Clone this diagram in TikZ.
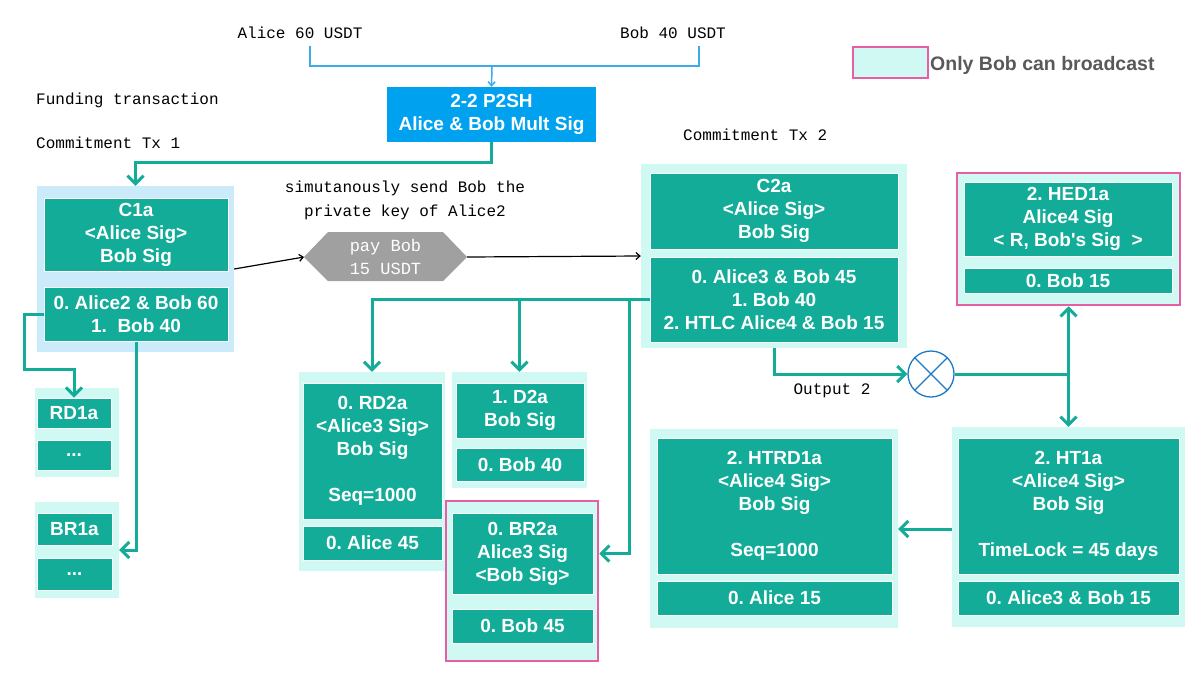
\documentclass[tikz,border=0pt]{standalone}
\usepackage{fontspec}
\setmainfont{Liberation Sans}
\newfontfamily\monof{Liberation Mono}
\usetikzlibrary{arrows.meta}
\frenchspacing
\definecolor{tealA}{RGB}{19,172,152}
\definecolor{lcyan}{RGB}{208,249,244}
\definecolor{lblue}{RGB}{204,235,250}
\definecolor{pinkb}{RGB}{232,94,164}
\definecolor{ptwoblue}{RGB}{0,162,240}
\definecolor{lineblue}{RGB}{60,170,235}
\definecolor{hexgray}{RGB}{160,160,160}
\definecolor{circblue}{RGB}{30,120,200}
\definecolor{leggray}{RGB}{89,89,89}
\tikzset{
  sz/.style 2 args={minimum width=#1pt, minimum height=#2pt},
  inbox/.style={fill=tealA, draw=white, line width=1pt, text=white, inner sep=0pt,
    font=\fontsize{19}{23}\selectfont\bfseries\frenchspacing, align=center},
  outbox/.style={fill=lcyan, inner sep=0pt},
  pinkbox/.style={fill=lcyan, draw=pinkb, line width=2.5pt, inner sep=0pt},
  mono/.style={font=\monof\fontsize{16}{24}\selectfont, inner sep=1pt},
  tarrow/.style={draw=tealA, line width=3pt, -{Straight Barb[length=8pt,width=16pt]}},
  tline/.style={draw=tealA, line width=3pt},
  karrow/.style={draw=black, line width=1.2pt, -{Straight Barb[length=4pt,width=7pt]}},
  bline/.style={draw=lineblue, line width=1.5pt},
}
\begin{document}
\begin{tikzpicture}[x=1pt,y=-1pt]
\useasboundingbox (0,0) rectangle (1201,683);

% top texts
\node[mono] (alice) at (300,33) {Alice 60 USDT};
\node[mono] (bob) at (673,33) {Bob 40 USDT};
\node[mono, anchor=west] (fund) at (35,100) {Funding transaction};
\node[mono, anchor=west] (ctxone) at (35,143) {Commitment Tx 1};
\node[mono, anchor=west] (ctxtwo) at (682,135) {Commitment Tx 2};
\node[mono, align=center] (sim) at (405,200) {simutanously send Bob the\\private key of Alice2};
\node[mono] (outtwo) at (832,391) {Output 2};

% legend
\node[pinkbox, sz={75}{31}] (leg) at (890.5,62.5) {};
\node[anchor=west, inner sep=1pt, text=leggray, font=\fontsize{19.5}{22}\selectfont\bfseries] (legt) at (929,65) {Only Bob can broadcast};

% P2SH
\node[fill=ptwoblue, text=white, inner sep=0pt, sz={209}{55}, align=center,
  font=\fontsize{19}{23}\selectfont\bfseries] (ptwo) at (491.5,114.5) {2-2 P2SH\\Alice \& Bob Mult Sig};

% C1a
\node[fill=lblue, inner sep=0pt, sz={197}{166}] (coneo) at (135.5,269) {};
\node[inbox, sz={184}{73}] (conet) at (136,234.5) {C1a\\<Alice Sig>\\Bob Sig};
\node[inbox, sz={184}{54}] (coneb) at (136,314) {0. Alice2 \& Bob 60\\1.\ \ Bob 40};

% RD1a / BR1a
\node[outbox, sz={84}{89}] (rdoneo) at (77,432.5) {};
\node[inbox, sz={74}{30}] (rdonet) at (74,413) {RD1a};
\node[inbox, sz={74}{30}] (rdoneb) at (74,455) {...};
\node[outbox, sz={84}{96}] (broneo) at (77,550) {};
\node[inbox, sz={75}{32}] (bronet) at (74.5,529) {BR1a};
\node[inbox, sz={75}{32}] (broneb) at (74.5,574) {...};

% hexagon
\fill[hexgray] (304,257) -- (328,232) -- (443,232) -- (467,257) -- (443,281) -- (328,281) -- cycle;
\node[mono, text=white, align=center, font=\monof\fontsize{17}{23}\selectfont] (hex) at (385.5,257) {pay Bob\\15 USDT};
\coordinate (hexL) at (304,257);
\coordinate (hexR) at (467,257);

% C2a
\node[outbox, sz={266}{184}] (ctwoo) at (774,256) {};
\node[inbox, sz={248}{76}] (ctwot) at (774,211) {C2a\\<Alice Sig>\\Bob Sig};
\node[inbox, sz={248}{85}] (ctwob) at (774,299.5) {0. Alice3 \& Bob 45\\1. Bob 40\\2. HTLC Alice4 \& Bob 15};

% HED1a
\node[pinkbox, sz={223}{132}] (hedo) at (1068.5,239) {};
\node[inbox, sz={208}{74}] (hedt) at (1068,219) {2. HED1a\\Alice4 Sig\\< R, Bob\textquotesingle s Sig\ \ >};
\node[inbox, sz={208}{25}] (hedb) at (1068,280.5) {0. Bob 15};

% circle
\node[circle, draw=circblue, fill=white, line width=1.3pt, minimum size=46pt, inner sep=0pt] (circ) at (931,374) {};
\draw[circblue, line width=1.3pt] (circ.north west) -- (circ.south east) (circ.north east) -- (circ.south west);

% HTRD1a
\node[outbox, sz={248}{199}] (htrdo) at (774,528.5) {};
\node[inbox, sz={235}{136}] (htrdt) at (774.5,506) {2. HTRD1a\\<Alice4 Sig>\\Bob Sig\\[23pt]Seq=1000};
\node[inbox, sz={235}{34}] (htrdb) at (774.5,598) {0. Alice 15};

% HT1a
\node[outbox, sz={233}{200}] (hto) at (1068.5,527) {};
\node[inbox, sz={221}{136}] (htt) at (1068.5,506) {2. HT1a\\<Alice4 Sig>\\Bob Sig\\[23pt]TimeLock = 45 days};
\node[inbox, sz={221}{34}] (htb) at (1068.5,598) {0. Alice3 \& Bob 15};

% RD2a
\node[outbox, sz={146}{199}] (rdtwoo) at (372,471.5) {};
\node[inbox, sz={139}{136}] (rdtwot) at (372.5,451) {0. RD2a\\<Alice3 Sig>\\Bob Sig\\[23pt]Seq=1000};
\node[inbox, sz={139}{34}] (rdtwob) at (372.5,543) {0. Alice 45};

% D2a
\node[outbox, sz={135}{116}] (dtwoo) at (519.5,430) {};
\node[inbox, sz={128}{55}] (dtwot) at (520,410.5) {1. D2a\\Bob Sig};
\node[inbox, sz={128}{33}] (dtwob) at (520,464.5) {0. Bob 40};

% BR2a
\node[pinkbox, sz={152}{160}] (brtwoo) at (522,581) {};
\node[inbox, sz={141}{81}] (brtwot) at (522.5,553.5) {0. BR2a\\Alice3 Sig\\<Bob Sig>};
\node[inbox, sz={141}{34}] (brtwob) at (522.5,626) {0. Bob 45};

% ---- connectors ----
\coordinate (aL) at (310,46);
\coordinate (bL) at (699,46);
\coordinate (jone) at (492,66);
\draw[bline] (aL) |- (jone) -| (bL);
\draw[bline, -{Straight Barb[length=4pt,width=7pt]}] (jone) -- (ptwo.north);

\draw[tarrow] (ptwo.south) -- ++(0,20) -| (coneo.north);

\coordinate (pone) at (24,369);
\draw[tarrow] (coneb.west) -| (pone) -| (rdonet.north);
\draw[tarrow] (coneb.south) |- (broneo.east);

\draw[karrow] (coneo.east) -- (hexL);
\draw[karrow] (hexR) -- (ctwoo.west);

\coordinate (jtwo) at (519.5,299.5);
\coordinate (jthree) at (629,299.5);
\draw[tarrow] (ctwob.west) -| (rdtwoo.north);
\draw[tarrow] (jtwo) -- (dtwoo.north);
\draw[tarrow] (jthree) |- (brtwoo.east |- brtwot.east);

\draw[tarrow] (ctwoo.south) |- (circ.west);
\coordinate (jfour) at (1068.5,374);
\draw[tline] (circ.east) -- (jfour);
\draw[tarrow] (jfour) -- (hedo.south);
\draw[tarrow] (jfour) -- (hto.north);
\draw[tarrow] (hto.west |- 0,529) -- (htrdo.east |- 0,529);
\end{tikzpicture}
\end{document}
